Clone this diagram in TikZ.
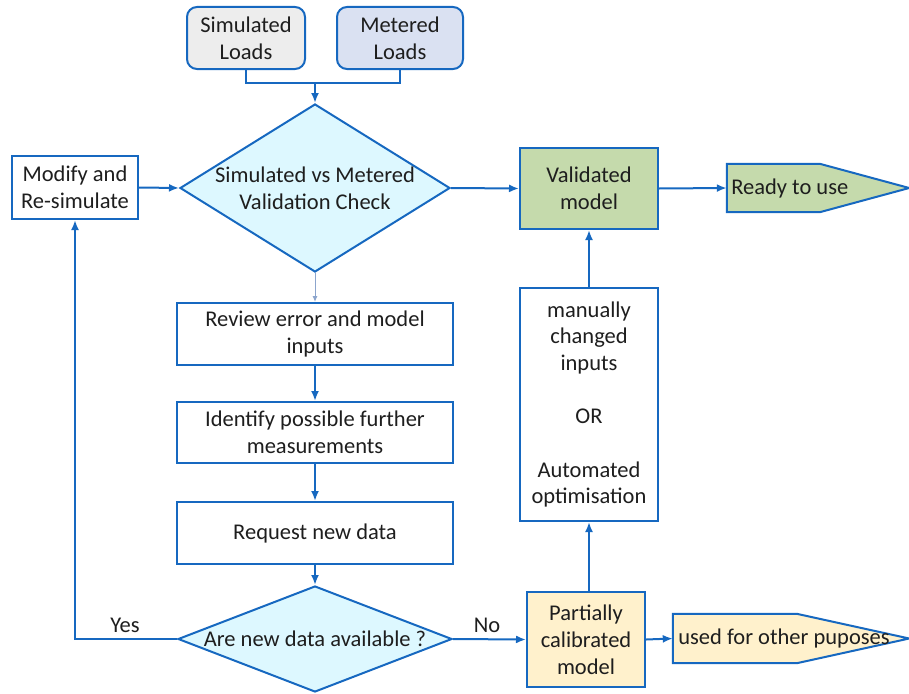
\documentclass[tikz,border=0pt]{standalone}
\usepackage{fontspec}
\setmainfont{Carlito}
\usetikzlibrary{shapes.geometric,arrows.meta}
\definecolor{bl}{RGB}{22,104,192}
\definecolor{txt}{RGB}{30,30,30}
\definecolor{simf}{RGB}{237,237,237}
\definecolor{metf}{RGB}{218,225,242}
\definecolor{diaf}{RGB}{221,248,255}
\definecolor{valf}{RGB}{197,218,172}
\definecolor{parf}{RGB}{255,241,204}
\definecolor{thin}{RGB}{140,165,205}
\tikzset{
  box/.style={draw=bl,line width=2pt,rectangle,inner sep=0pt,align=center,text=txt,font=\fontsize{22.5}{27}\selectfont},
  rbox/.style={box,rounded corners=10pt},
  dia/.style={draw=bl,line width=2pt,diamond,inner sep=0pt,fill=diaf},
  lbl/.style={text=txt,font=\fontsize{22.5}{27}\selectfont,align=center},
  conn/.style={draw=bl,line width=2pt},
  arr/.style={conn,-{Latex[length=10pt,width=8pt]}}
}
\begin{document}
\begin{tikzpicture}[x=1pt,y=-1pt]
\useasboundingbox (0,0) rectangle (909,693);
% top loads
\node[rbox,fill=simf,minimum width=118,minimum height=62] (sim) at (246,38) {Simulated\\Loads};
\node[rbox,fill=metf,minimum width=126,minimum height=62] (met) at (400,38) {Metered\\Loads};
\coordinate (join) at (315,83);
% diamonds
\node[dia,minimum width=270,minimum height=168,aspect=1.607,label={[lbl]center:Simulated vs Metered\\Validation Check}] (d1) at (315,188) {};
\node[dia,minimum width=274,minimum height=106,aspect=2.585,label={[lbl]center:Are new data available ?}] (d2) at (315,639) {};
% boxes
\node[box,fill=white,minimum width=126,minimum height=63] (mod) at (75,187.5) {Modify and\\Re-simulate};
\node[box,fill=valf,minimum width=138,minimum height=81] (val) at (589,188.5) {Validated\\model};
\node[box,fill=white,minimum width=276,minimum height=62] (rev) at (315,334) {Review error and model\\inputs};
\node[box,fill=white,minimum width=276,minimum height=61] (ide) at (315,432.5) {Identify possible further\\measurements};
\node[box,fill=white,minimum width=276,minimum height=62] (req) at (315,533) {Request new data};
\node[box,fill=white,minimum width=138,minimum height=233,font=\fontsize{22.5}{26.7}\selectfont] (man) at (589,404.5) {manually\\changed\\inputs\\[26.7pt]OR\\[26.7pt]Automated\\optimisation};
\node[box,fill=parf,minimum width=118,minimum height=95] (par) at (586,639.5) {Partially\\calibrated\\model};
% pointed shapes
\node[minimum width=182,minimum height=48,inner sep=0pt] (rdy) at (818,188) {};
\draw[draw=bl,line width=2pt,fill=valf] (rdy.north west) -- ++(93,0) -- (rdy.east) -- ([xshift=93pt]rdy.south west) -- (rdy.south west) -- cycle;
\node[lbl,anchor=west] (rdyt) at ([xshift=1pt]rdy.west) {Ready to use};
\node[minimum width=236,minimum height=49,inner sep=0pt] (use) at (791,638.5) {};
\draw[draw=bl,line width=2pt,fill=parf] (use.north west) -- ++(124,0) -- (use.east) -- ([xshift=124pt]use.south west) -- (use.south west) -- cycle;
\node[lbl,anchor=west] (uset) at ([xshift=2pt]use.west) {used for other puposes};
% connectors
\draw[conn] (sim.south) |- (join) -| (met.south);
\draw[arr] (join) -- (d1.north);
\draw[arr] (mod.east) -- (d1.west);
\draw[arr] (d1.east) -- (val.west);
\draw[arr] (val.east) -- (rdy.west);
\draw[draw=thin,line width=1pt,-{Latex[length=6pt,width=5pt]}] (d1.south) -- (rev.north);
\draw[arr] (rev.south) -- (ide.north);
\draw[arr] (ide.south) -- (req.north);
\draw[arr] (req.south) -- (d2.north);
\draw[arr] (d2.west) -| (mod.south);
\draw[arr] (d2.east) -- (par.west);
\draw[arr] (par.east) -- (use.west);
\draw[arr] (man.south |- par.north) -- (man.south);
\draw[arr] (man.north) -- (val.south);
\node[lbl] (yes) at (125,625) {Yes};
\node[lbl] (no) at (487,625) {No};
\end{tikzpicture}
\end{document}
